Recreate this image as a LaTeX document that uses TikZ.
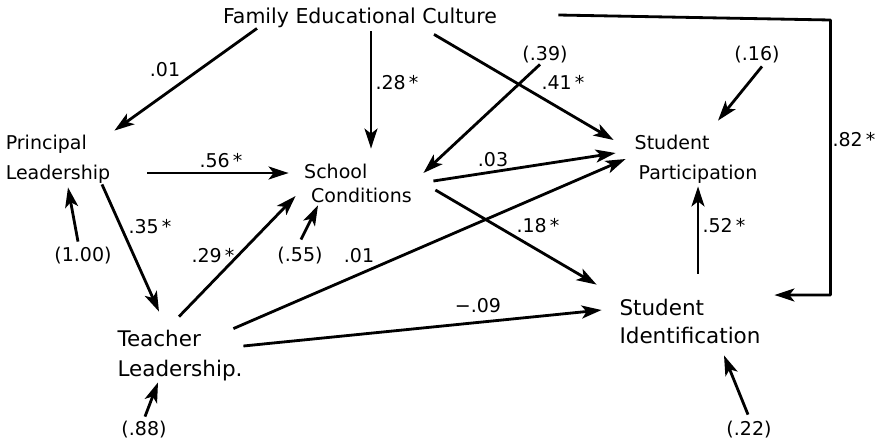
\documentclass[tikz,border=0pt]{standalone}
\usepackage{fontspec}
\setmainfont{DejaVu Sans}
\usetikzlibrary{arrows.meta}

\begin{document}
\begin{tikzpicture}[x=1pt,y=-1pt,>={Stealth[length=20pt,width=13pt,inset=5pt]},line join=bevel,
  every node/.style={inner sep=0pt},
  var/.style={align=left,font=\fontsize{19}{30}\selectfont},
  res/.style={font=\fontsize{19}{23}\selectfont,minimum height=20pt},
  coef/.style={font=\fontsize{19}{23}\selectfont}]
  \pgfsetlinewidth{2.8bp}
  \useasboundingbox (0,0) rectangle (881,445);
%%
  % Node: fam
  \node[var,font=\fontsize{20.5}{30}\selectfont,minimum width=284pt,minimum height=24pt] (fam) at (360,18) {Family Educational Culture};
  % Node: pl
  \node[var,minimum width=110pt,minimum height=54pt] (pl) at (58,159) {Principal\\Leadership};
  % Node: sc
  \node[var,font=\fontsize{19}{24}\selectfont,minimum width=140pt,minimum height=50pt] (sc) at (358,183) {School\\\hspace*{7pt}Conditions};
  % Node: sp
  \node[var,minimum width=130pt,minimum height=52pt] (sp) at (696,159) {Student\\\hspace*{4pt}Participation};
  % Node: tl
  \node[var,font=\fontsize{21.5}{30}\selectfont,minimum width=130pt,minimum height=56pt] (tl) at (180,356) {Teacher\\Leadership.};
  % Node: si
  \node[var,font=\fontsize{21.5}{28}\selectfont,minimum width=150pt,minimum height=48pt] (si) at (690,321) {Student\\Identification};
  % Nodes: residuals
  \node[res] (r39) at (545,55) {(.39)};
  \node[res] (r16) at (757,55) {(.16)};
  \node[res] (r100) at (83,256) {(1.00)};
  \node[res] (r55) at (300,256) {(.55)};
  \node[res] (r88) at (144,430) {(.88)};
  \node[res] (r22) at (749,430) {(.22)};
  % Edge: fam -> pl
  \draw[->] ([xshift=-103pt,yshift=3pt]fam.south) -- (pl.north east);
  \node[coef] (c1) at (165,70) {.01};
  % Edge: fam -> sc
  \draw[->] ([xshift=11pt]fam.south) -- ([xshift=13pt,yshift=8pt]sc.north);
  \node[coef] (c2) at (397,83) {.28\,*};
  % Edge: fam -> sp
  \draw[->] ([xshift=74pt,yshift=-3pt]fam.south) -- ([xshift=-16pt,yshift=19pt]sp.west);
  \node[coef] (c3) at (563,82) {.41\,*};
  % Edge: fam -> si
  \draw[->] ([xshift=55pt,yshift=3pt]fam.east) -- ++(272,5) |- ([xshift=8pt,yshift=26pt]si.east);
  \node[coef] (c4) at (854,140) {.82\,*};
  % Edge: pl -> sc
  \draw[->] ([xshift=33pt,yshift=-14pt]pl.east) -- ([xshift=2pt,yshift=10pt]sc.west);
  \node[coef] (c5) at (221,161) {.56\,*};
  % Edge: pl -> tl
  \draw[->] ([xshift=44pt,yshift=3pt]pl.south) -- ([xshift=-21pt,yshift=15pt]tl.north);
  \node[coef] (c6) at (150,227) {.35\,*};
  % Edge: tl -> sc
  \draw[->] ([xshift=-1pt,yshift=10pt]tl.north) -- ([xshift=9pt,yshift=-13pt]sc.west);
  \node[coef] (c7) at (213,256) {.29\,*};
  % Edge: tl -> sp
  \draw[->] ([xshift=-13pt,yshift=-2pt]tl.north east) -- ([xshift=-4pt]sp.west);
  \node[coef] (c8) at (359,256) {.01};
  % Edge: tl -> si
  \draw[->] ([xshift=-3pt,yshift=10pt]tl.east) -- ([xshift=-12pt,yshift=11pt]si.west);
  \node[coef] (c9) at (478,306) {−.09};
  % Edge: sc -> sp
  \draw[->] ([xshift=4pt,yshift=2pt]sc.east) -- ([xshift=-14pt,yshift=6pt]sp.west);
  \node[coef] (c10) at (493,160) {.03};
  % Edge: sc -> si
  \draw[->] ([xshift=6pt,yshift=-7pt]sc.east) -- ([xshift=-17pt,yshift=11pt]si.north west);
  \node[coef] (c11) at (538,226) {.18\,*};
  % Edge: si -> sp
  \draw[->] ([xshift=8pt,yshift=22pt]si.north) -- ([xshift=2pt]sp.south);
  \node[coef] (c12) at (724,226) {.52\,*};
  % Edges: residuals
  \draw[->] ([xshift=-5pt,yshift=2pt]r39.south) -- ([xshift=-6pt,yshift=10pt]sc.east);
  \draw[->] ([xshift=5pt]r16.south) -- ([xshift=22pt,yshift=11pt]sp.north);
  \draw[->] ([xshift=-5pt,yshift=3pt]r100.north) -- ([xshift=10pt]pl.south);
  \draw[->] ([xshift=1pt,yshift=5pt]r55.north) -- ([xshift=-40pt,yshift=4pt]sc.south);
  \draw[->] ([xshift=1pt,yshift=2pt]r88.north) -- ([xshift=-22pt,yshift=3pt]tl.south);
  \draw[->] ([xshift=-1pt,yshift=4pt]r22.north) -- ([xshift=34pt,yshift=-9pt]si.south);
%
\end{tikzpicture}
\end{document}
